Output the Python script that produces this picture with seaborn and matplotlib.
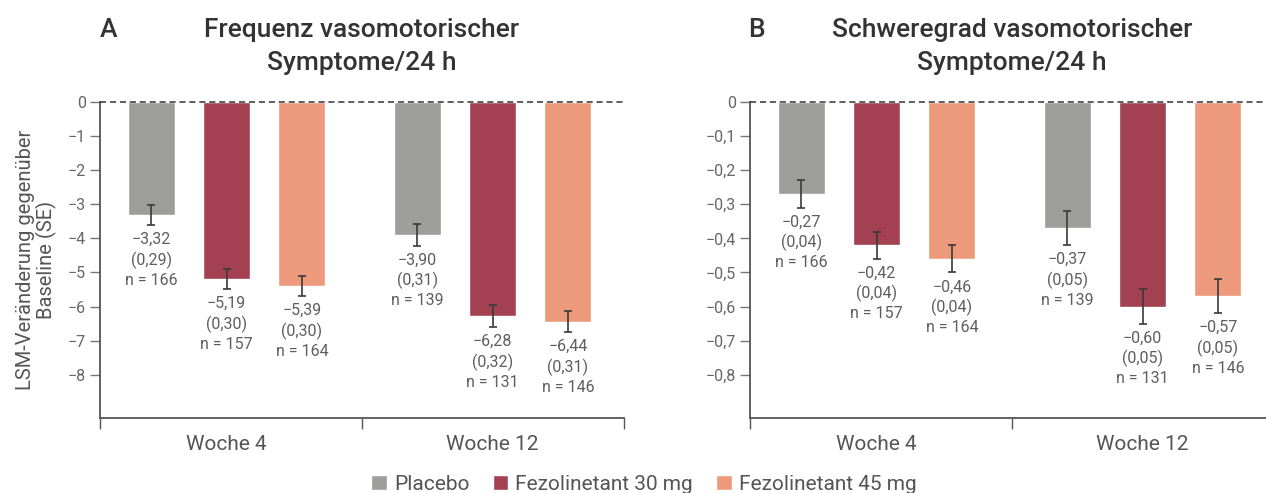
import numpy as np
import pandas as pd
import seaborn as sns
import matplotlib.pyplot as plt

weeks = ["Woche 4", "Woche 12"]
groups = ["Placebo", "Fezolinetant 30 mg", "Fezolinetant 45 mg"]
colors = ["#9d9d9b", "#a34152", "#ec9a7b"]

# values ordered: week 4 (Placebo, 30 mg, 45 mg), week 12 (Placebo, 30 mg, 45 mg)
freq_mean = [-3.32, -5.19, -5.39, -3.90, -6.28, -6.44]
freq_se = [0.29, 0.30, 0.30, 0.31, 0.32, 0.31]
sev_mean = [-0.27, -0.42, -0.46, -0.37, -0.60, -0.57]
sev_se = [0.04, 0.04, 0.04, 0.05, 0.05, 0.05]
n_values = [166, 157, 164, 139, 131, 146]

freq_ticks = [0, -1, -2, -3, -4, -5, -6, -7, -8]
sev_ticks = [0, -0.1, -0.2, -0.3, -0.4, -0.5, -0.6, -0.7, -0.8]

sns.set_style("white")
plt.rcParams["font.family"] = ["Roboto", "DejaVu Sans"]

TICKC = "#555555"


def fmt_num(v, nd):
    s = f"{abs(v):.{nd}f}".replace(".", ",")
    if v < 0 and abs(v) > 1e-12:
        s = "\u2212" + s
    return s


def tick_fmt(v, nd):
    if abs(v) < 1e-12:
        return "0"
    return fmt_num(v, nd)


fig = plt.figure(figsize=(12.66, 4.93), dpi=100)
W, H = 1266, 493
axA = fig.add_axes([100 / W, 1 - 418 / H, 524 / W, 316 / H])
axB = fig.add_axes([750 / W, 1 - 418 / H, 524 / W, 316 / H])

XL = (-0.4756, 1.494)


def panel(ax, means, ses, ticks, ylim, nd_tick, letter, title, lx):
    df = pd.DataFrame({
        "week": [w for w in weeks for _ in groups],
        "group": groups * len(weeks),
        "value": means,
    })
    sns.barplot(data=df, x="week", y="value", hue="group", order=weeks,
                hue_order=groups, palette=colors, width=0.849, gap=0.375,
                errorbar=None, saturation=1, ax=ax, legend=True, zorder=2)
    bars = [b for c in ax.containers for b in c]
    for v, se, n in zip(means, ses, n_values):
        bar = min(bars, key=lambda b: abs(b.get_height() - v))
        xc = bar.get_x() + bar.get_width() / 2
        ax.errorbar(xc, v, yerr=se, fmt="none", ecolor="#3a3a3a",
                    elinewidth=1.2, capsize=3, capthick=1.2, zorder=3)
        label = f"{fmt_num(v, 2)}\n({fmt_num(se, 2)})\nn = {n}"
        ax.annotate(label, xy=(xc, v - se), xytext=(0, -5),
                    textcoords="offset points", ha="center", va="top",
                    fontsize=11.5, color="#5e5e5e", linespacing=1.33)
    ax.axhline(0, color="#333333", lw=1.1, ls=(0, (4, 2.5)), zorder=5,
               clip_on=False)
    ax.set_ylim(*ylim)
    ax.set_xlim(*XL)
    ax.set_yticks(ticks)
    ax.set_yticklabels([tick_fmt(t, nd_tick) for t in ticks])
    ax.tick_params(axis="y", which="major", direction="out", length=7,
                   width=1, color="#777777", labelsize=11.5,
                   labelcolor="#666666", pad=3, left=True)
    ax.set_xticks([XL[0], (XL[0] + XL[1]) / 2, XL[1]])
    ax.set_xticklabels([])
    ax.set_xticks([0, 1], minor=True)
    ax.set_xticklabels(weeks, minor=True)
    ax.tick_params(axis="x", which="major", direction="out", length=8,
                   width=1, color=TICKC, bottom=True)
    ax.tick_params(axis="x", which="minor", length=0, labelsize=15,
                   labelcolor="#555555", pad=12)
    for s in ["top", "right"]:
        ax.spines[s].set_visible(False)
    for s in ["left", "bottom"]:
        ax.spines[s].set_color(TICKC)
        ax.spines[s].set_linewidth(1.3)
    ax.set_xlabel("")
    ax.set_ylabel("")
    fig.text(lx / W, 1 - 18 / H, letter, ha="left", va="top",
             fontsize=19, fontweight="medium", color="#333333")
    cx = (ax.get_position().x0 + ax.get_position().x1) / 2
    fig.text(cx, 1 - 18 / H, title, ha="center", va="top", fontsize=19,
             fontweight="medium", color="#333333", linespacing=1.45)


panel(axA, freq_mean, freq_se, freq_ticks, (-9.27, 0), 0, "A",
      "Frequenz vasomotorischer\nSymptome/24 h", 100)
panel(axB, sev_mean, sev_se, sev_ticks, (-0.927, 0), 1, "B",
      "Schweregrad vasomotorischer\nSymptome/24 h", 748)

axA.set_ylabel("LSM-Veränderung gegenüber\nBaseline (SE)", fontsize=14.5,
               color="#555555", linespacing=1.05)
axA.yaxis.set_label_coords(-0.083, 0.5)

handles, labels = axA.get_legend_handles_labels()
axA.get_legend().remove()
axB.get_legend().remove()
leg = fig.legend(handles, labels, loc="center", ncol=3,
                 bbox_to_anchor=(644 / W, 1 - 484 / H), frameon=False,
                 fontsize=15, handlelength=0.75, handleheight=0.75,
                 handletextpad=0.35, columnspacing=1.1, borderaxespad=0)
for t in leg.get_texts():
    t.set_color("#555555")

fig.savefig("out.png", dpi=100)
